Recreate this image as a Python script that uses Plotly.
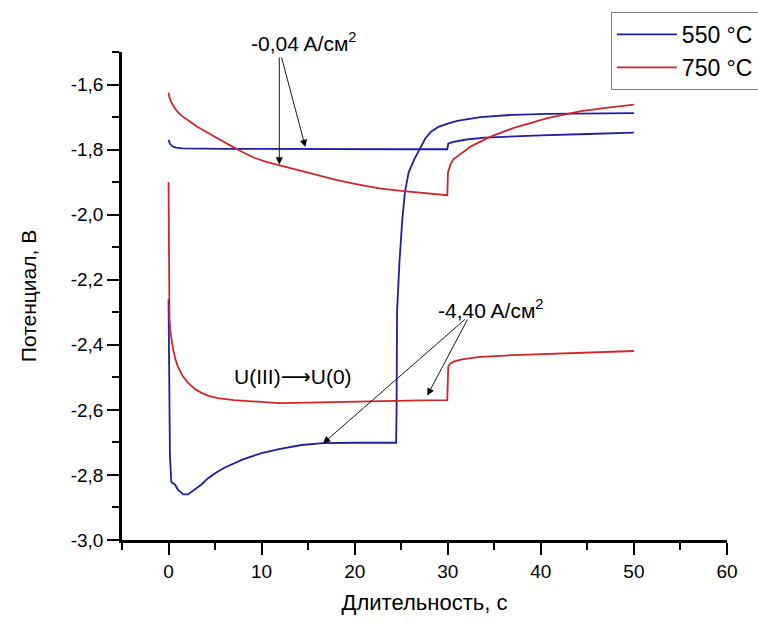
import plotly.graph_objects as go

# ---------------- data ----------------
series_names = ["550 °C", "750 °C"]

# 550 °C, -0.04 A/cm2
t_550_low = [0, 0.15, 0.4, 0.8, 1.5, 3, 6, 10, 15, 20, 25, 29.95, 30.05, 30.5, 31, 32, 34, 36, 40, 45, 50]
v_550_low = [-1.770, -1.782, -1.790, -1.794, -1.796, -1.797, -1.798, -1.798, -1.799, -1.799, -1.799, -1.799,
             -1.782, -1.777, -1.774, -1.769, -1.763, -1.760, -1.756, -1.752, -1.748]

# 550 °C, -4.40 A/cm2
t_550_high = [0, 0.05, 0.15, 0.3, 0.7, 1.0, 1.6, 2.1, 2.8, 3.5, 4.25, 5, 6, 7.1, 8, 10, 10.7, 12, 14.3, 16.6,
              20, 24.45, 24.5, 24.55, 24.8, 25.1, 25.4, 25.8, 26.4, 27.1, 27.6, 28.2, 29, 30, 31, 33.5, 37,
              40.7, 45, 50]
v_550_high = [-2.26, -2.50, -2.74, -2.822, -2.830, -2.845, -2.860, -2.860, -2.846, -2.830, -2.810, -2.795,
              -2.778, -2.764, -2.752, -2.733, -2.728, -2.720, -2.708, -2.702, -2.701, -2.701, -2.60, -2.30,
              -2.15, -2.02, -1.93, -1.87, -1.83, -1.79, -1.765, -1.745, -1.730, -1.720, -1.712, -1.700,
              -1.693, -1.690, -1.690, -1.688]

# 750 °C, -0.04 A/cm2
t_750_low = [0, 0.1, 0.3, 0.6, 1, 1.5, 2.1, 3, 4.3, 5.5, 6.8, 8, 9.2, 10.5, 12.1, 14, 16, 18, 20, 22.8, 25,
             27, 29.95, 30.02, 30.3, 30.6, 31.05, 32.5, 34.6, 37.1, 40.7, 44.3, 47, 50]
v_750_low = [-1.625, -1.640, -1.655, -1.670, -1.685, -1.698, -1.710, -1.728, -1.750, -1.770, -1.790, -1.808,
             -1.825, -1.838, -1.850, -1.865, -1.880, -1.893, -1.905, -1.920, -1.927, -1.932, -1.940, -1.870,
             -1.845, -1.830, -1.820, -1.790, -1.760, -1.733, -1.703, -1.682, -1.672, -1.662]

# 750 °C, -4.40 A/cm2
t_750_high = [0, 0.03, 0.06, 0.1, 0.2, 0.35, 0.5, 0.75, 1.0, 1.5, 2.1, 2.8, 3.5, 4.3, 5.3, 7, 8.9, 11.8, 15,
              19, 22.8, 27, 29.95, 30.0, 30.05, 30.3, 30.7, 31.5, 33.5, 37, 40.7, 45, 50]
v_750_high = [-1.90, -2.10, -2.26, -2.32, -2.36, -2.39, -2.415, -2.445, -2.467, -2.495, -2.517, -2.535,
              -2.547, -2.557, -2.564, -2.570, -2.574, -2.579, -2.578, -2.575, -2.572, -2.571, -2.570, -2.51,
              -2.467, -2.457, -2.451, -2.445, -2.437, -2.432, -2.428, -2.424, -2.419]

x_ticks = [0, 10, 20, 30, 40, 50, 60]
x_tick_labels = ["0", "10", "20", "30", "40", "50", "60"]
y_ticks = [-3.0, -2.8, -2.6, -2.4, -2.2, -2.0, -1.8, -1.6]
y_tick_labels = ["-3,0", "-2,8", "-2,6", "-2,4", "-2,2", "-2,0", "-1,8", "-1,6"]

x_title = "Длительность, с"
y_title = "Потенциал, В"
label_low = "-0,04 A/см<sup>2</sup>"
label_high = "-4,40 A/см<sup>2</sup>"
label_reaction = "U(III)<span style=\"font-family:'DejaVu Sans'\">⟶</span>U(0)"

# ---------------- styles ----------------
BLUE = "#1f1fa3"
RED = "#d0262b"
FONT = "Arial, 'Liberation Sans', sans-serif"

fig = go.Figure()
fig.add_trace(go.Scatter(x=t_550_low + [None] + t_550_high, y=v_550_low + [None] + v_550_high,
                         mode="lines", name=series_names[0], line=dict(color=BLUE, width=1.8),
                         connectgaps=False))
fig.add_trace(go.Scatter(x=t_750_low + [None] + t_750_high, y=v_750_low + [None] + v_750_high,
                         mode="lines", name=series_names[1], line=dict(color=RED, width=1.8),
                         connectgaps=False))

axis_common = dict(showgrid=False, zeroline=False, showline=True, linecolor="black", linewidth=2.5,
                   ticks="outside", ticklen=12, tickwidth=2, tickcolor="black",
                   tickfont=dict(size=19, color="black", family=FONT), mirror=False)

fig.update_xaxes(range=[-5, 60], tickvals=x_ticks, ticktext=x_tick_labels,
                 minor=dict(dtick=5, tick0=-5, ticklen=7, tickwidth=2, tickcolor="black", ticks="outside"),
                 title=dict(text=x_title, font=dict(size=22, color="black", family=FONT), standoff=15),
                 **axis_common)
fig.update_yaxes(range=[-3.0, -1.5], tickvals=y_ticks, ticktext=y_tick_labels,
                 minor=dict(dtick=0.2, tick0=-2.9, ticklen=7, tickwidth=2, tickcolor="black", ticks="outside"),
                 title=dict(text=y_title, font=dict(size=21, color="black", family=FONT), standoff=29),
                 **axis_common)

arrow_style = dict(showarrow=True, arrowhead=2, arrowsize=1.6, arrowwidth=0.9, arrowcolor="black",
                   axref="x", ayref="y", xref="x", yref="y", text="")
annotations = [
    dict(x=11.9, y=-1.846, ax=11.9, ay=-1.512, **arrow_style),
    dict(x=14.7, y=-1.792, ax=12.1, ay=-1.512, **arrow_style),
    dict(x=16.6, y=-2.703, ax=32.0, ay=-2.318, **arrow_style),
    dict(x=27.8, y=-2.556, ax=32.2, ay=-2.318, **arrow_style),
    dict(x=14.6, y=1.02, xref="x", yref="paper", yanchor="middle", xanchor="center",
         text=label_low, showarrow=False, font=dict(size=21, color="black", family=FONT)),
    dict(x=34.6, y=-2.289, xref="x", yref="y", yanchor="middle", xanchor="center",
         text=label_high, showarrow=False, font=dict(size=21, color="black", family=FONT)),
    dict(x=13.4, y=-2.50, xref="x", yref="y", yanchor="middle", xanchor="center",
         text=label_reaction, showarrow=False, font=dict(size=21, color="black", family=FONT)),
]

fig.update_layout(
    width=758, height=623,
    margin=dict(l=122, r=31, t=52, b=83, autoexpand=False),
    paper_bgcolor="white", plot_bgcolor="white",
    font=dict(family=FONT, color="black"),
    annotations=annotations,
    showlegend=True,
    legend=dict(x=0.808, y=1.082, xanchor="left", yanchor="top",
                bordercolor="#7f7f7f", borderwidth=1, bgcolor="white",
                font=dict(size=23, color="black", family=FONT),
                itemwidth=60, tracegroupgap=0),
)

fig.write_html("out.html")
